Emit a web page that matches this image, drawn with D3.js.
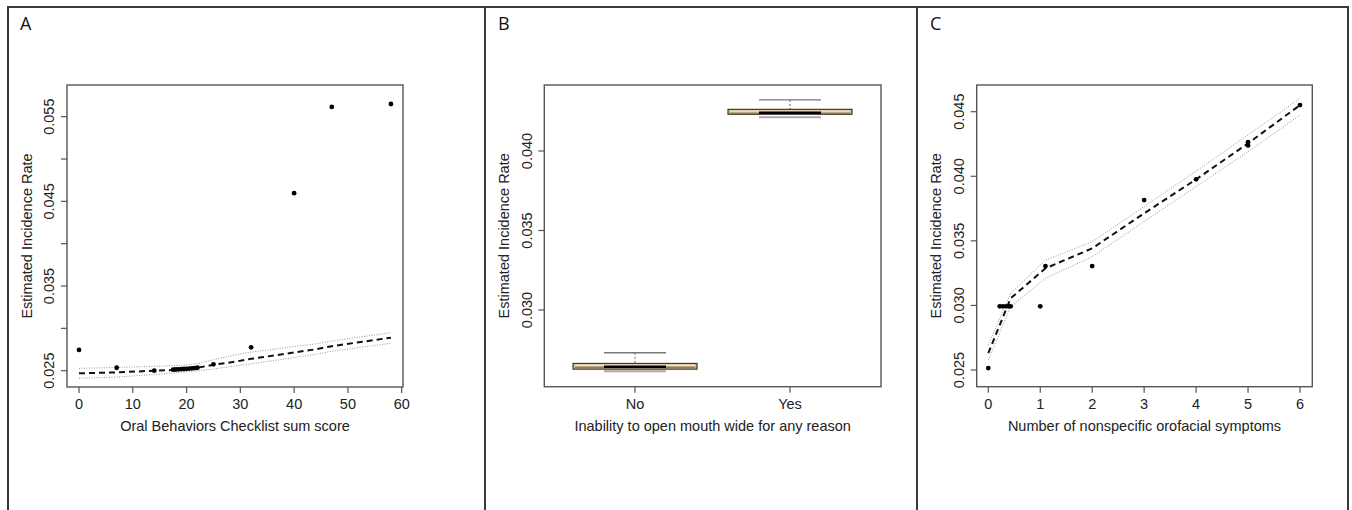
<!DOCTYPE html>
<html>
<head>
<meta charset="utf-8">
<title>Estimated incidence rate panels</title>
<script src="https://cdn.jsdelivr.net/npm/d3@7"></script>
<style>
  body { margin: 0; background: #fff; }
  svg { display: block; font-family: "Liberation Sans", Arial, sans-serif; }
</style>
</head>
<body>
<svg id="chart" width="1352" height="510"></svg>
<script>
// ---- panel A: Oral Behaviors Checklist sum score ----
var obcX   = [0, 7, 14, 17.5, 18, 18.5, 19, 19.5, 20, 20.5, 21, 21.5, 22, 25, 32, 40, 47, 58];
var obcY   = [0.02745, 0.02535, 0.0250, 0.02512, 0.02514, 0.02516, 0.02518, 0.0252, 0.02522, 0.02525, 0.02528, 0.02531, 0.02535, 0.02575, 0.02776, 0.04597, 0.05615, 0.0565];
var obcFitX = [0, 7, 14, 17.5, 20, 22, 25, 29, 32, 40, 44, 47, 58];
var obcFit  = [0.02469, 0.0248, 0.0250, 0.02508, 0.0252, 0.02535, 0.0257, 0.02606, 0.0264, 0.02715, 0.02753, 0.0279, 0.0289];
var obcUp   = [0.02528, 0.02538, 0.02552, 0.0256, 0.02567, 0.02585, 0.0263, 0.02686, 0.0272, 0.02785, 0.02816, 0.0285, 0.02949];
var obcLo   = [0.0241, 0.02425, 0.02455, 0.02472, 0.02488, 0.02498, 0.0252, 0.02556, 0.0258, 0.02655, 0.02694, 0.0273, 0.02824];
var obcXTicks = [0, 10, 20, 30, 40, 50, 60];
var obcYTicks = [0.025, 0.030, 0.035, 0.040, 0.045, 0.050, 0.055];
var obcYLabels = [0.025, 0.035, 0.045, 0.055];

// ---- panel B: inability to open mouth wide ----
var mouthCats = ["No", "Yes"];
var mouthLoCap = [0.02618, 0.04216];
var mouthQ1    = [0.02628, 0.04231];
var mouthMed   = [0.02643, 0.04241];
var mouthQ3    = [0.02664, 0.04262];
var mouthHiCap = [0.02731, 0.04321];
var mouthYTicks = [0.030, 0.035, 0.040];

// ---- panel C: nonspecific orofacial symptoms ----
var symX = [0, 0.22, 0.28, 0.34, 0.39, 0.43, 1, 1.1, 2, 3, 4, 5, 5, 6];
var symY = [0.02515, 0.02993, 0.02993, 0.02993, 0.02993, 0.02993, 0.02993, 0.03305, 0.03305, 0.03816, 0.03976, 0.04264, 0.04239, 0.04551];
var symFitX = [0, 0.43, 1.1, 2, 3, 4, 5, 6];
var symFit  = [0.0263, 0.03055, 0.03287, 0.03442, 0.03713, 0.03976, 0.04255, 0.04551];
var symUp   = [0.02694, 0.03094, 0.03351, 0.03493, 0.03765, 0.0404, 0.0432, 0.04603];
var symLo   = [0.02577, 0.0299, 0.0321, 0.03377, 0.0365, 0.0392, 0.0419, 0.04474];
var symXTicks = [0, 1, 2, 3, 4, 5, 6];
var symYTicks = [0.025, 0.030, 0.035, 0.040, 0.045];

var svg = d3.select("#chart");
var ink = "#222";
var fs = 14.5;
var fmt = d3.format(".3f");

// panel frames
var frame = svg.append("g").attr("stroke", "#3a3a3a").attr("stroke-width", 2);
frame.append("line").attr("x1", 7).attr("x2", 1349).attr("y1", 7).attr("y2", 7);
[8, 485, 917, 1348].forEach(function(x) {
  frame.append("line").attr("x1", x).attr("x2", x).attr("y1", 7).attr("y2", 510);
});
[["A", 20], ["B", 498], ["C", 930]].forEach(function(p) {
  svg.append("text").attr("x", p[1]).attr("y", 30)
    .attr("font-family", "'Open Sans', sans-serif").attr("font-size", 18)
    .attr("fill", "#111").text(p[0]);
});

function plotFrame(left, right, top, bottom, xlab, ylab) {
  var g = svg.append("g");
  g.append("rect").attr("x", left).attr("y", top)
    .attr("width", right - left).attr("height", bottom - top)
    .attr("fill", "none").attr("stroke", "#555").attr("stroke-width", 1.4);
  g.append("text").attr("x", (left + right) / 2).attr("y", 431)
    .attr("text-anchor", "middle").attr("font-size", fs).attr("fill", ink).text(xlab);
  g.append("text")
    .attr("transform", "translate(" + (left - 35.5) + "," + ((top + bottom) / 2) + ") rotate(-90)")
    .attr("text-anchor", "middle").attr("font-size", fs).attr("fill", ink).text(ylab);
  return g;
}

function xAxis(g, scale, ticks, labels, bottom) {
  ticks.forEach(function(t, i) {
    var x = scale(t);
    g.append("line").attr("x1", x).attr("x2", x).attr("y1", bottom).attr("y2", bottom + 6)
      .attr("stroke", "#555").attr("stroke-width", 1.2);
    g.append("text").attr("x", x).attr("y", 408.5).attr("text-anchor", "middle")
      .attr("font-size", fs).attr("fill", ink).text(labels[i]);
  });
}

function yAxis(g, scale, ticks, labelled, left) {
  ticks.forEach(function(t) {
    var y = scale(t);
    g.append("line").attr("x1", left - 6).attr("x2", left).attr("y1", y).attr("y2", y)
      .attr("stroke", "#555").attr("stroke-width", 1.2);
  });
  labelled.forEach(function(t) {
    g.append("text")
      .attr("transform", "translate(" + (left - 12.8) + "," + scale(t) + ") rotate(-90)")
      .attr("text-anchor", "middle").attr("font-size", fs).attr("fill", ink).text(fmt(t));
  });
}

function fitLines(g, x, y, fx, fit, up, lo) {
  var mk = function(vals) {
    return d3.line().x(function(d, i) { return x(fx[i]); }).y(function(d) { return y(d); })(vals);
  };
  [up, lo].forEach(function(v) {
    g.append("path").attr("d", mk(v)).attr("fill", "none")
      .attr("stroke", "#999").attr("stroke-width", 1).attr("stroke-dasharray", "1,1.5");
  });
  g.append("path").attr("d", mk(fit)).attr("fill", "none")
    .attr("stroke", "#111").attr("stroke-width", 2).attr("stroke-dasharray", "6,4");
}

function dots(g, x, y, xs, ys) {
  g.selectAll(null).data(xs).enter().append("circle")
    .attr("cx", function(d) { return x(d); })
    .attr("cy", function(d, i) { return y(ys[i]); })
    .attr("r", 2.4).attr("fill", "#000");
}

// panel A
(function() {
  var L = 67, R = 403, T = 85, B = 387;
  var x = d3.scaleLinear().domain([0, 60]).range([79, 401.7]);
  var y = d3.scaleLinear().domain([0.025, 0.055]).range([370.7, 116.7]);
  var g = plotFrame(L, R, T, B, "Oral Behaviors Checklist sum score", "Estimated Incidence Rate");
  xAxis(g, x, obcXTicks, obcXTicks, B);
  yAxis(g, y, obcYTicks, obcYLabels, L);
  fitLines(g, x, y, obcFitX, obcFit, obcUp, obcLo);
  dots(g, x, y, obcX, obcY);
})();

// panel B
(function() {
  var L = 544.3, R = 881, T = 85, B = 386.7;
  var x = d3.scalePoint().domain(mouthCats).range([635, 790]);
  var y = d3.scaleLinear().domain([0.030, 0.040]).range([310, 151]);
  var g = plotFrame(L, R, T, B, "Inability to open mouth wide for any reason", "Estimated Incidence Rate");
  xAxis(g, x, mouthCats, mouthCats, B);
  yAxis(g, y, mouthYTicks, mouthYTicks, L);
  var bw = 124, cw = 62;
  mouthCats.forEach(function(c, i) {
    var cx = x(c);
    // whisker and caps
    g.append("line").attr("x1", cx).attr("x2", cx).attr("y1", y(mouthHiCap[i])).attr("y2", y(mouthQ3[i]))
      .attr("stroke", "#666").attr("stroke-width", 1).attr("stroke-dasharray", "2,2");
    g.append("line").attr("x1", cx - cw / 2).attr("x2", cx + cw / 2)
      .attr("y1", y(mouthHiCap[i])).attr("y2", y(mouthHiCap[i]))
      .attr("stroke", "#777").attr("stroke-width", 1.3);
    g.append("line").attr("x1", cx - cw / 2).attr("x2", cx + cw / 2)
      .attr("y1", y(mouthLoCap[i]) + 0.5).attr("y2", y(mouthLoCap[i]) + 0.5)
      .attr("stroke", "#aaa").attr("stroke-width", 2);
    // box
    g.append("rect").attr("x", cx - bw / 2).attr("y", y(mouthQ3[i]))
      .attr("width", bw).attr("height", y(mouthQ1[i]) - y(mouthQ3[i]))
      .attr("fill", "#cdb98f").attr("stroke", "#3f3a30").attr("stroke-width", 1.2);
    g.append("line").attr("x1", cx - bw / 2 + 2).attr("x2", cx + bw / 2 - 2)
      .attr("y1", y(mouthQ3[i]) + 1.8).attr("y2", y(mouthQ3[i]) + 1.8)
      .attr("stroke", "#efe4c8").attr("stroke-width", 1.4);
    g.append("line").attr("x1", cx - bw / 2 + 2).attr("x2", cx + bw / 2 - 2)
      .attr("y1", y(mouthMed[i]) + 0.6).attr("y2", y(mouthMed[i]) + 0.6)
      .attr("stroke", "#8a7a60").attr("stroke-width", 1.2);
    g.append("line").attr("x1", cx - cw / 2).attr("x2", cx + cw / 2)
      .attr("y1", y(mouthMed[i])).attr("y2", y(mouthMed[i]))
      .attr("stroke", "#000").attr("stroke-width", 2.4);
  });
})();

// panel C
(function() {
  var L = 976.7, R = 1312.3, T = 85, B = 386.7;
  var x = d3.scaleLinear().domain([0, 6]).range([988.3, 1300]);
  var y = d3.scaleLinear().domain([0.025, 0.045]).range([370, 111.7]);
  var g = plotFrame(L, R, T, B, "Number of nonspecific orofacial symptoms", "Estimated Incidence Rate");
  xAxis(g, x, symXTicks, symXTicks, B);
  yAxis(g, y, symYTicks, symYTicks, L);
  fitLines(g, x, y, symFitX, symFit, symUp, symLo);
  dots(g, x, y, symX, symY);
})();
</script>
</body>
</html>
